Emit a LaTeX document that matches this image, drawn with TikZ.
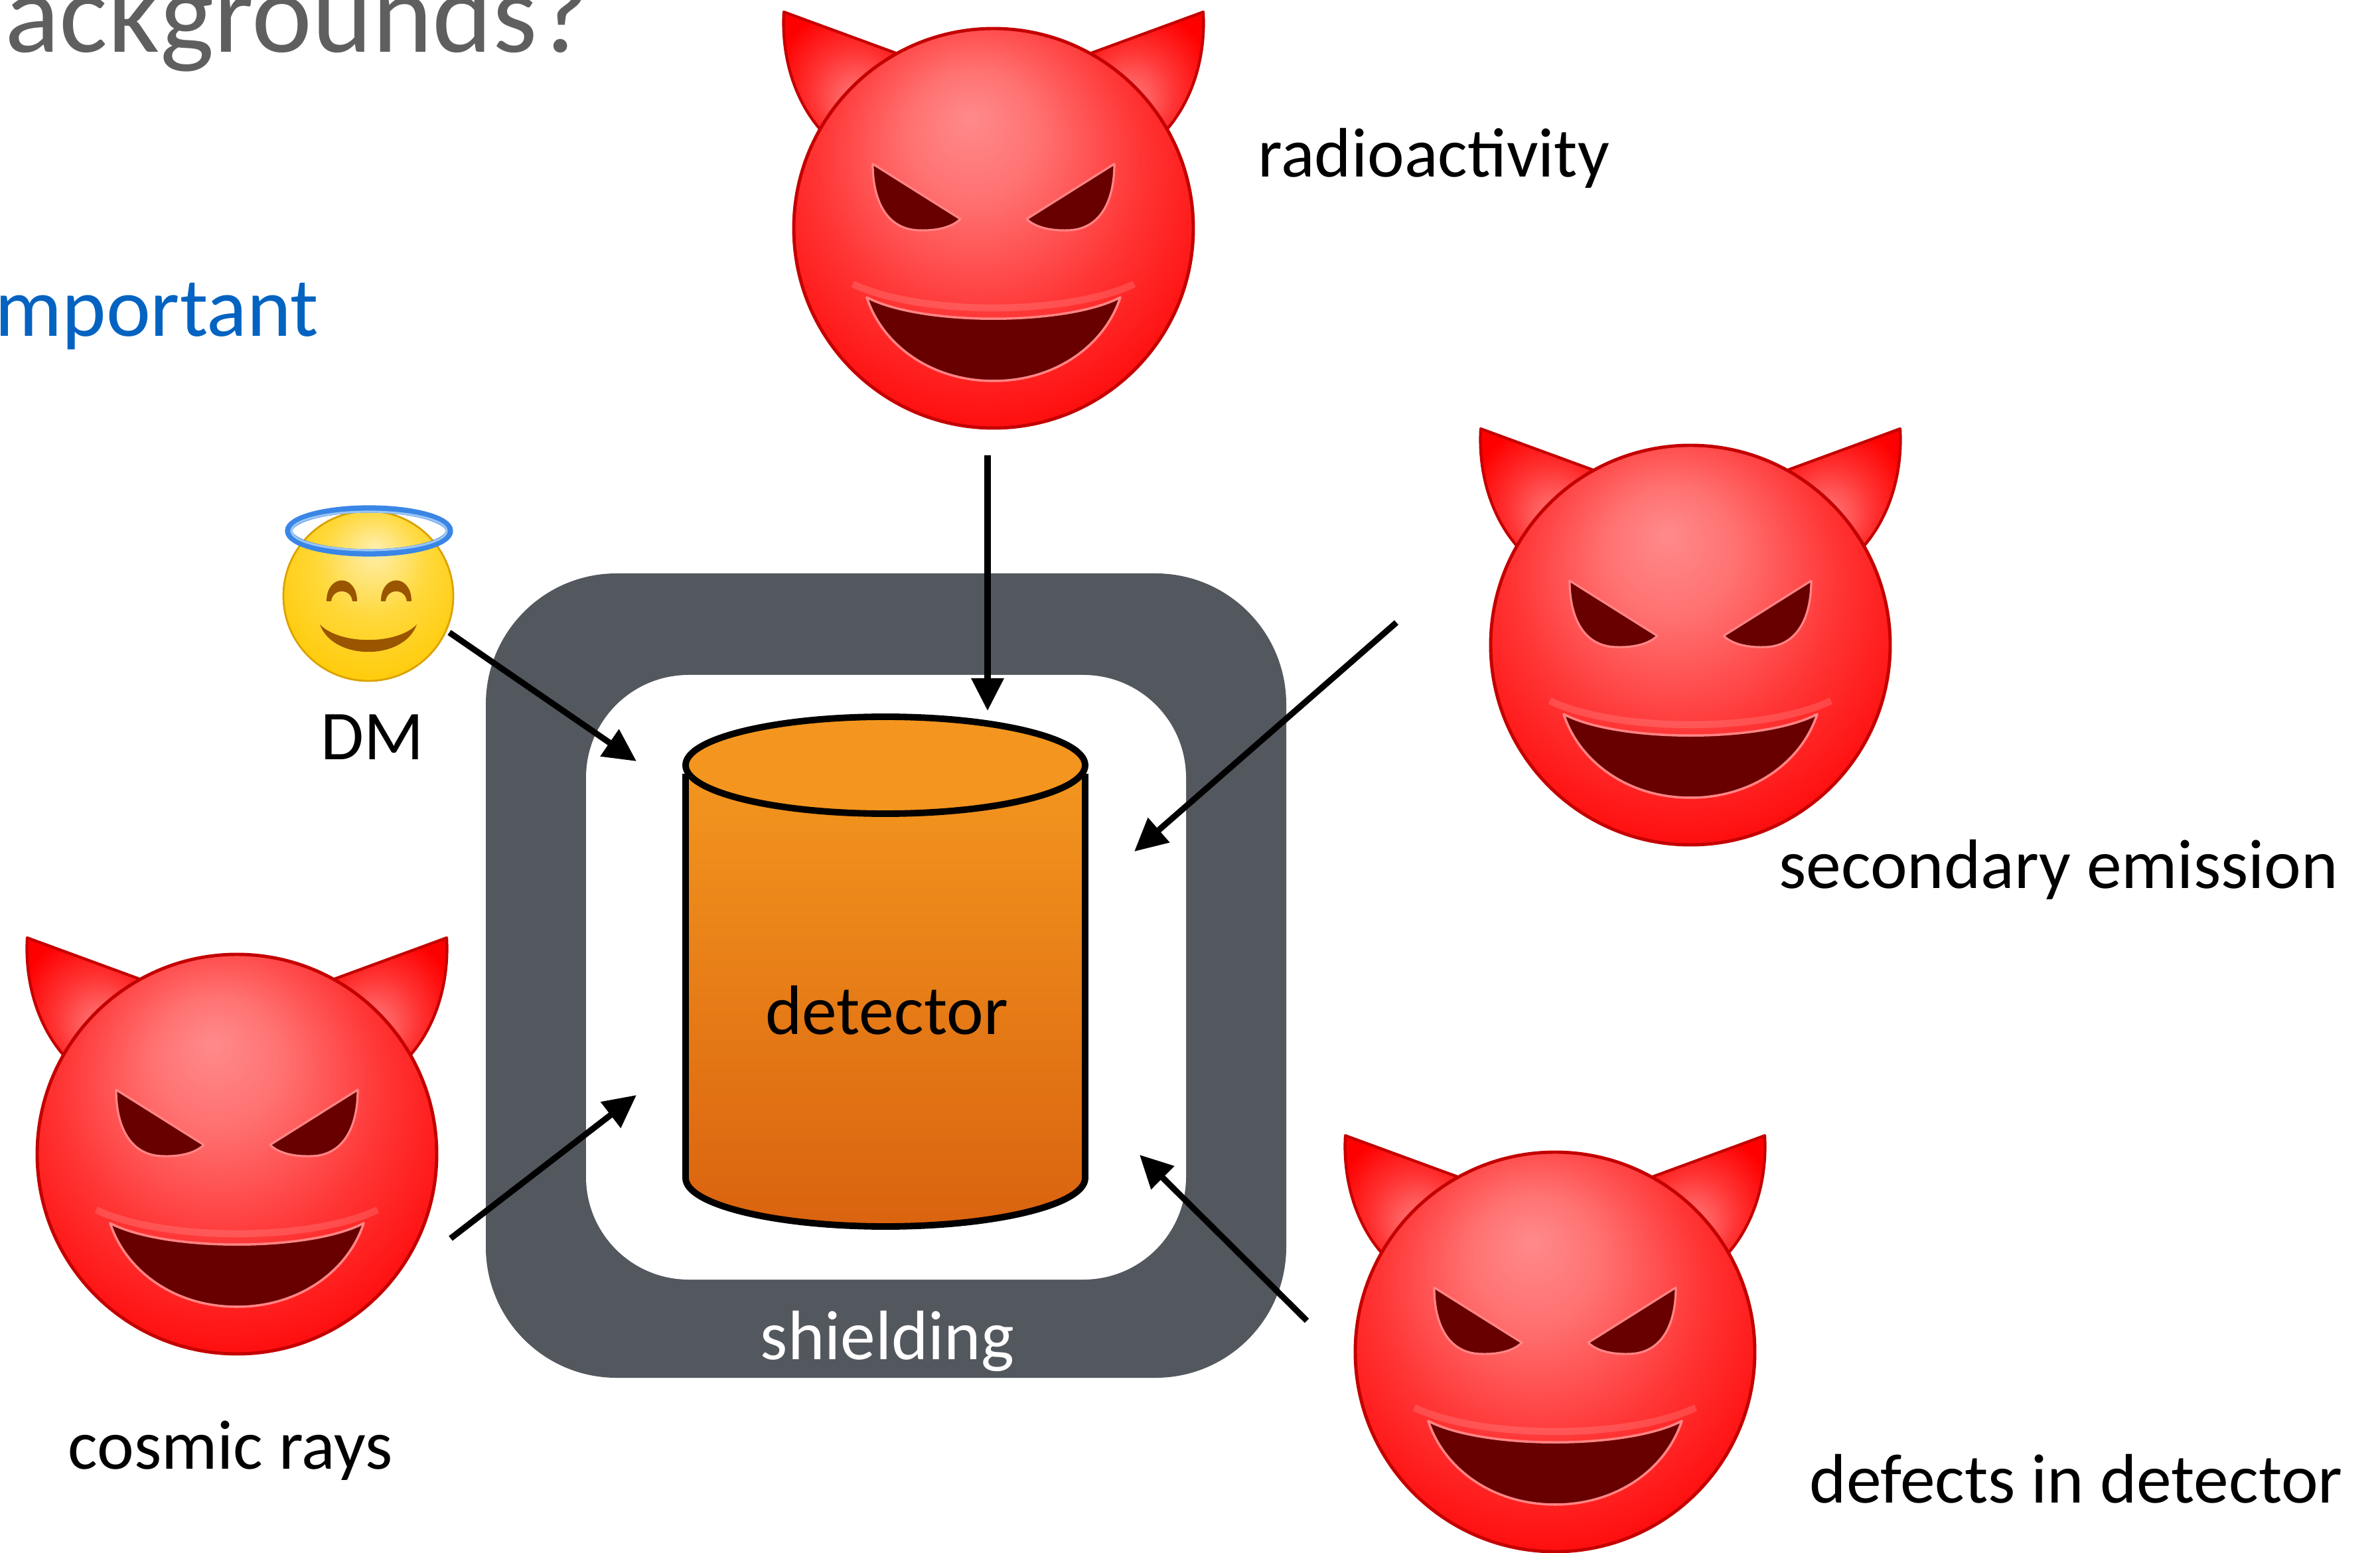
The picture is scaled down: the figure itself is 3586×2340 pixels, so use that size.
\documentclass[tikz,border=0pt]{standalone}
\usepackage{fontspec}
\setmainfont{Carlito}
\usetikzlibrary{arrows.meta}

\definecolor{titlegray}{HTML}{5F5F5F}
\definecolor{keyblue}{HTML}{0463C1}
\definecolor{shieldgray}{HTML}{53575E}
\definecolor{cyltop}{HTML}{F3961F}
\definecolor{cylbot}{HTML}{DA630F}
\definecolor{cyllid}{HTML}{F3951F}
\definecolor{dvhi}{HTML}{FF8A8A}
\definecolor{dvpink}{HTML}{FF7272}
\definecolor{dvmid}{HTML}{FF3636}
\definecolor{dvdeep}{HTML}{FF1010}
\definecolor{dvred}{HTML}{FF0000}
\definecolor{dvline}{HTML}{C40000}
\definecolor{dvdark}{HTML}{680000}
\definecolor{dvrim}{HTML}{FF8585}
\definecolor{anhi}{HTML}{FFEFAE}
\definecolor{anmid}{HTML}{FFD83A}
\definecolor{anyel}{HTML}{FFC800}
\definecolor{anline}{HTML}{DBA200}
\definecolor{anbrown}{HTML}{9A5500}
\definecolor{halo}{HTML}{3A86E6}
\definecolor{halolight}{HTML}{9CC6F5}

\pgfdeclareradialshading{devilface}{\pgfpoint{-3bp}{14bp}}{color(0bp)=(dvhi); color(8bp)=(dvpink); color(20bp)=(dvmid); color(30bp)=(dvdeep); color(38bp)=(dvred); color(50bp)=(dvred)}
\pgfdeclareradialshading{hornleft}{\pgfpoint{11bp}{-16bp}}{color(0bp)=(dvhi); color(18bp)=(dvmid); color(32bp)=(dvred); color(50bp)=(dvred)}
\pgfdeclareradialshading{hornright}{\pgfpoint{-11bp}{-16bp}}{color(0bp)=(dvhi); color(18bp)=(dvmid); color(32bp)=(dvred); color(50bp)=(dvred)}
\pgfdeclareradialshading{angelface}{\pgfpoint{2bp}{14bp}}{color(0bp)=(anhi); color(16bp)=(anmid); color(34bp)=(anyel); color(50bp)=(anyel)}

\tikzset{
  devil/.pic={
    % horns first, so the head covers their roots
    \shade[shading=hornleft, draw=dvline, line width=1.2pt, line join=round]
      (-316,-326) .. controls (-320,-255) and (-298,-192) .. (-262,-150)
      -- (-190,-190) -- (-147,-264) -- cycle;
    \shade[shading=hornright, draw=dvline, line width=1.2pt, line join=round]
      (316,-326) .. controls (320,-255) and (298,-192) .. (262,-150)
      -- (190,-190) -- (147,-264) -- cycle;
    % head
    \shade[shading=devilface, draw=dvline, line width=1.4pt] (0,0) circle[radius=301];
    % eyes
    \path[fill=dvdark, draw=dvrim, line width=0.9pt, line join=round]
      (-182,-97) -- (-50,-14) .. controls (-62,-2) and (-85,4) .. (-112,3)
      .. controls (-160,2) and (-182,-40) .. cycle;
    \path[fill=dvdark, draw=dvrim, line width=0.9pt, line join=round]
      (182,-97) -- (50,-14) .. controls (62,-2) and (85,4) .. (112,3)
      .. controls (160,2) and (182,-40) .. cycle;
    % grin
    \draw[white, opacity=0.14, line width=3pt]
      (-212,84) .. controls (-110,132) and (110,132) .. (212,84);
    \path[fill=dvdark, draw=dvrim, line width=1pt, line join=round]
      (-191,104) .. controls (-110,147) and (110,147) .. (191,104)
      .. controls (168,175) and (95,230) .. (0,230)
      .. controls (-95,230) and (-168,175) .. cycle;
  }
}

\begin{document}
\begin{tikzpicture}[x=0.01cm, y=-0.01cm,
  lbl/.style={inner sep=0pt, font=\fontsize{30}{36}\selectfont},
  ray/.style={line width=2.6pt, -{Triangle[length=14pt,width=13.5pt]}},
  cylline/.style={draw=black, line width=2.8pt}]

\useasboundingbox (0,0) rectangle (3586,2340);
\clip (0,0) rectangle (3586,2340);

% slide heading fragments
\node[inner sep=0pt, anchor=base east, text=titlegray,
      font=\fontsize{49}{58}\selectfont] (tTitle) at (890,79) {ackgrounds?};
\node[inner sep=0pt, anchor=base east, text=keyblue,
      font=\fontsize{36}{43}\selectfont] (tImp) at (481,507) {mportant};

% shielding
\fill[shieldgray, rounded corners=56pt] (732,864) rectangle (1938,2076);
\fill[white, rounded corners=44pt] (883,1017) rectangle (1787,1928);
\node[lbl, anchor=base, text=white] (lShield) at (1337,2048) {shielding};

% detector cylinder
\shade[top color=cyltop, bottom color=cylbot]
  (1033,1153) -- (1033,1775) .. controls (1033,1815) and (1168,1848) .. (1334,1848)
  .. controls (1500,1848) and (1635,1815) .. (1635,1775) -- (1635,1153) -- cycle;
\draw[cylline] (1033,1166) -- (1033,1775)
  .. controls (1033,1815) and (1168,1848) .. (1334,1848)
  .. controls (1500,1848) and (1635,1815) .. (1635,1775) -- (1635,1166);
\path[fill=cyllid, cylline] (1334,1153) ellipse[x radius=301, y radius=73];
\node[lbl, anchor=base] (lDet) at (1336,1558) {detector};

% dark matter: angel face
\shade[shading=angelface, draw=anline, line width=0.8pt] (555,898) circle[radius=128];
\fill[anbrown] (492,906) .. controls (492,864) and (538,864) .. (538,906)
  -- (531,906) .. controls (529,886) and (501,886) .. (499,906) -- cycle;
\fill[anbrown] (574,906) .. controls (574,864) and (620,864) .. (620,906)
  -- (613,906) .. controls (611,886) and (583,886) .. (581,906) -- cycle;
\fill[anbrown] (482,941) .. controls (512,972) and (598,972) .. (628,941)
  .. controls (608,996) and (502,996) .. cycle;
\draw[halo, line width=3.2pt] (556,800) ellipse[x radius=121, y radius=33];
\draw[halolight, line width=0.9pt] (556,800) ellipse[x radius=117, y radius=29];
\node[lbl, anchor=base west] (lDM) at (483,1145) {DM};

% background sources
\pic at (1497,344) {devil};
\pic at (2547,972) {devil};
\pic at (357,1739) {devil};
\pic at (2343,2037) {devil};
\node[lbl, anchor=base west] (lRad) at (1895,267) {radioactivity};
\node[lbl, anchor=base west] (lSec) at (2680,1338) {secondary emission};
\node[lbl, anchor=base west] (lCos) at (102,2213) {cosmic rays};
\node[lbl, anchor=base west] (lDef) at (2726,2264) {defects in detector};

% incoming particles
\coordinate (dmA) at (677,953);   \coordinate (dmB) at (959,1147);
\coordinate (raA) at (1488,686);  \coordinate (raB) at (1488,1071);
\coordinate (seA) at (2104,938);  \coordinate (seB) at (1709,1283);
\coordinate (crA) at (679,1866);  \coordinate (crB) at (959,1650);
\coordinate (dfA) at (1969,1990); \coordinate (dfB) at (1717,1740);
\draw[ray] (dmA) -- (dmB);
\draw[ray] (raA) -- (raB);
\draw[ray] (seA) -- (seB);
\draw[ray] (crA) -- (crB);
\draw[ray] (dfA) -- (dfB);

\end{tikzpicture}
\end{document}
